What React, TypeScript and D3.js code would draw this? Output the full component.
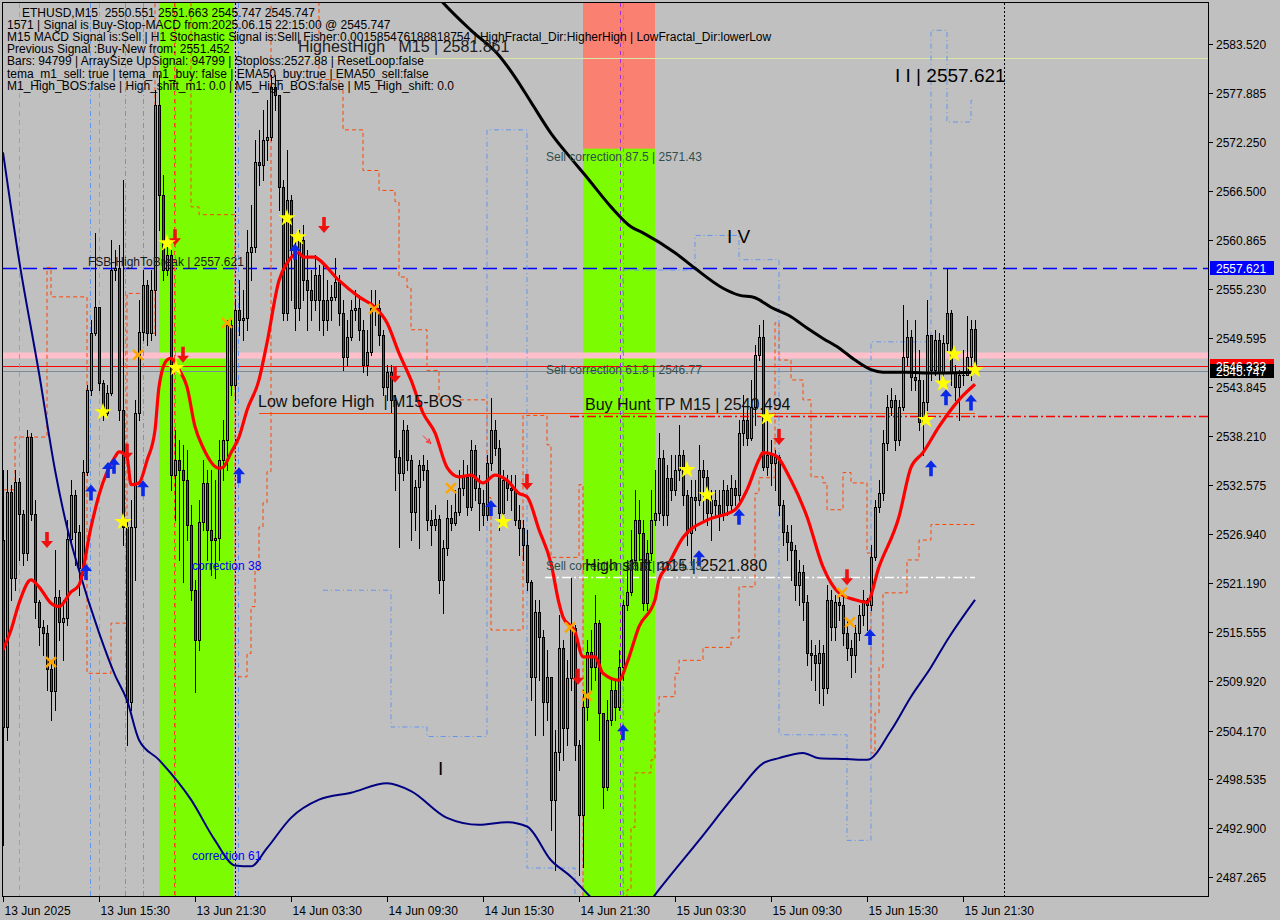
import React, { useRef, useEffect } from 'react';
import * as d3 from 'd3';

// ETHUSD M15, one value per bar, 13 Jun 09:30 -> 15 Jun 22:15
const firstOpen = 2526.2;
const closes = [
  2504.6, 2531.7, 2521.8, 2532.9, 2529.2, 2524.7, 2538.1, 2529.2, 2519.0, 2516.1,
  2515.5, 2511.3, 2508.8, 2519.6, 2516.7, 2517.2, 2526.3, 2531.4, 2527.1, 2523.0,
  2534.1, 2543.5, 2550.1, 2553.1, 2544.3, 2540.9, 2543.2, 2557.4, 2557.6, 2541.2,
  2527.7, 2507.5, 2527.7, 2540.9, 2550.2, 2555.7, 2550.1, 2555.1, 2576.5, 2566.1,
  2557.4, 2559.1, 2533.7, 2535.4, 2534.3, 2533.1, 2527.9, 2520.4, 2514.6, 2528.3,
  2532.8, 2527.4, 2526.2, 2526.4, 2535.4, 2537.8, 2551.0, 2544.1, 2552.8, 2551.6,
  2551.9, 2559.5, 2560.1, 2569.9, 2569.5, 2572.4, 2572.8, 2578.5, 2577.6, 2567.0,
  2552.4, 2565.5, 2559.7, 2553.0, 2560.9, 2556.2, 2555.1, 2553.9, 2556.8, 2553.9,
  2551.6, 2553.9, 2554.3, 2556.0, 2552.4, 2547.4, 2549.7, 2552.8, 2553.0, 2550.5,
  2546.4, 2547.9, 2553.0, 2553.0, 2549.9, 2543.9, 2545.6, 2542.4, 2535.8, 2533.9,
  2538.9, 2535.4, 2529.4, 2532.3, 2534.9, 2534.3, 2528.5, 2527.9, 2528.6, 2521.6,
  2525.3, 2528.7, 2528.2, 2529.4, 2532.2, 2533.5, 2530.0, 2536.6, 2532.2, 2530.5,
  2529.1, 2535.1, 2538.9, 2536.8, 2529.3, 2533.1, 2532.2, 2532.0, 2528.5, 2527.6,
  2525.6, 2521.4, 2510.4, 2517.9, 2515.0, 2507.5, 2510.4, 2496.2, 2501.7, 2513.7,
  2504.5, 2510.3, 2516.0, 2502.5, 2494.4, 2506.9, 2513.3, 2511.5, 2516.6, 2506.2,
  2497.7, 2505.4, 2508.9, 2506.9, 2511.5, 2518.7, 2520.2, 2523.9, 2528.5, 2527.0,
  2518.9, 2524.7, 2528.5, 2529.3, 2535.7, 2529.1, 2533.4, 2532.0, 2534.3, 2536.0,
  2531.4, 2527.0, 2531.2, 2530.8, 2534.3, 2533.5, 2529.3, 2530.8, 2530.2, 2529.1,
  2532.0, 2530.2, 2532.2, 2531.4, 2538.6, 2540.1, 2538.0, 2541.6, 2547.6, 2549.7,
  2534.6, 2536.0, 2535.1, 2535.8, 2530.2, 2527.1, 2526.0, 2525.0, 2521.0, 2522.5,
  2519.0, 2513.1, 2512.9, 2512.0, 2513.1, 2509.1, 2519.3, 2516.1, 2519.0, 2518.7,
  2515.5, 2513.7, 2512.9, 2515.5, 2517.5, 2519.3, 2518.7, 2524.2, 2530.0, 2531.6,
  2537.4, 2541.6, 2542.4, 2537.8, 2541.6, 2547.4, 2549.7, 2545.0, 2544.7, 2539.8,
  2542.2, 2549.9, 2545.8, 2549.3, 2545.5, 2549.0, 2552.4, 2545.5, 2543.9, 2545.3,
  2545.3, 2547.4, 2550.551, 2545.747,
];
const highs = [
  2534.3, 2534.3, 2532.6, 2534.3, 2533.4, 2529.7, 2538.9, 2538.6, 2530.8, 2519.3,
  2517.0, 2516.4, 2512.3, 2525.0, 2520.4, 2519.3, 2528.5, 2533.1, 2532.0, 2527.9,
  2535.4, 2544.1, 2551.6, 2561.7, 2552.8, 2544.7, 2544.1, 2560.9, 2559.7, 2560.3,
  2567.8, 2528.5, 2530.8, 2542.4, 2553.9, 2557.4, 2556.2, 2557.4, 2578.2, 2579.9,
  2568.4, 2560.9, 2559.7, 2538.9, 2537.8, 2537.2, 2536.6, 2530.2, 2521.6, 2530.8,
  2535.4, 2534.3, 2534.3, 2533.1, 2537.8, 2540.1, 2551.6, 2551.6, 2553.9, 2556.2,
  2555.1, 2562.0, 2564.9, 2572.4, 2573.6, 2575.9, 2577.1, 2579.9, 2579.9, 2577.6,
  2567.8, 2571.3, 2566.1, 2560.9, 2562.0, 2562.6, 2559.7, 2557.4, 2559.1, 2558.0,
  2558.0, 2556.2, 2555.7, 2558.8, 2556.8, 2553.9, 2551.6, 2553.9, 2555.1, 2554.5,
  2551.6, 2550.5, 2555.1, 2555.1, 2553.9, 2550.5, 2546.4, 2546.4, 2543.0, 2536.6,
  2540.1, 2539.5, 2536.0, 2533.1, 2535.4, 2536.0, 2535.4, 2529.7, 2530.2, 2529.1,
  2526.2, 2530.8, 2530.2, 2532.0, 2534.3, 2535.4, 2534.9, 2537.8, 2537.2, 2533.7,
  2532.0, 2536.0, 2542.6, 2540.1, 2537.8, 2534.3, 2533.7, 2533.7, 2533.7, 2530.2,
  2528.5, 2527.4, 2521.6, 2519.3, 2519.3, 2515.8, 2513.5, 2510.0, 2504.2, 2517.5,
  2514.6, 2512.3, 2521.8, 2516.4, 2503.1, 2508.9, 2514.6, 2515.8, 2519.8, 2517.0,
  2506.0, 2507.7, 2510.0, 2510.0, 2513.5, 2519.3, 2523.9, 2527.4, 2532.0, 2530.8,
  2528.5, 2526.2, 2532.0, 2534.3, 2538.6, 2536.6, 2534.9, 2536.0, 2536.0, 2539.5,
  2536.6, 2532.0, 2533.1, 2533.1, 2537.2, 2535.4, 2534.3, 2532.0, 2532.0, 2532.0,
  2533.1, 2532.6, 2533.7, 2533.1, 2540.1, 2543.0, 2541.2, 2544.7, 2548.7, 2551.0,
  2551.6, 2540.6, 2537.8, 2536.6, 2536.0, 2530.8, 2527.9, 2527.9, 2525.6, 2523.9,
  2523.3, 2519.8, 2514.6, 2514.1, 2514.6, 2514.1, 2521.0, 2520.4, 2519.8, 2520.4,
  2519.8, 2517.0, 2514.6, 2516.4, 2518.7, 2520.4, 2519.5, 2525.6, 2530.8, 2533.1,
  2538.9, 2543.0, 2543.8, 2543.0, 2542.4, 2553.4, 2551.6, 2550.5, 2551.6, 2548.2,
  2544.7, 2553.9, 2549.9, 2550.5, 2550.1, 2549.9, 2557.6, 2552.8, 2546.4, 2545.9,
  2548.2, 2552.1, 2551.6, 2551.663,
];
const lows = [
  2491.0, 2503.1, 2519.3, 2520.4, 2523.9, 2523.3, 2523.9, 2528.5, 2517.2, 2514.1,
  2512.9, 2508.9, 2505.4, 2506.6, 2514.6, 2512.3, 2516.4, 2525.6, 2523.3, 2519.8,
  2522.2, 2533.7, 2543.0, 2549.9, 2543.5, 2540.1, 2540.6, 2543.0, 2556.2, 2540.1,
  2525.6, 2502.5, 2506.6, 2521.6, 2540.1, 2549.3, 2548.7, 2549.3, 2549.9, 2562.0,
  2556.2, 2556.8, 2532.0, 2528.5, 2523.9, 2521.3, 2526.2, 2519.3, 2508.6, 2513.5,
  2527.4, 2523.9, 2522.2, 2521.8, 2523.9, 2533.1, 2534.3, 2543.0, 2542.4, 2549.9,
  2549.3, 2550.5, 2556.2, 2559.5, 2567.2, 2567.8, 2570.1, 2572.4, 2575.9, 2564.3,
  2551.6, 2551.6, 2553.9, 2550.5, 2551.6, 2553.9, 2550.5, 2551.6, 2552.8, 2550.5,
  2549.9, 2550.5, 2551.6, 2553.9, 2551.0, 2545.9, 2546.4, 2549.3, 2551.6, 2549.3,
  2545.6, 2545.3, 2547.6, 2551.0, 2548.7, 2543.0, 2542.4, 2541.0, 2532.0, 2525.4,
  2533.1, 2534.3, 2526.2, 2527.4, 2525.3, 2533.1, 2527.4, 2525.6, 2527.4, 2520.1,
  2517.8, 2524.5, 2527.4, 2527.9, 2529.1, 2531.4, 2529.1, 2529.7, 2530.8, 2527.4,
  2527.9, 2528.5, 2534.3, 2536.0, 2527.4, 2529.1, 2530.8, 2529.7, 2527.9, 2524.5,
  2523.9, 2520.4, 2507.7, 2503.7, 2510.0, 2503.7, 2505.4, 2492.7, 2488.1, 2499.6,
  2500.8, 2502.5, 2508.9, 2500.8, 2487.5, 2488.4, 2505.4, 2508.9, 2510.0, 2503.1,
  2495.2, 2497.3, 2504.8, 2505.4, 2506.6, 2510.0, 2518.1, 2519.8, 2522.7, 2523.9,
  2518.1, 2518.1, 2523.9, 2527.9, 2528.5, 2527.9, 2527.9, 2530.8, 2531.4, 2533.1,
  2530.2, 2525.6, 2523.3, 2527.4, 2530.2, 2528.5, 2527.9, 2526.2, 2529.1, 2527.4,
  2528.5, 2529.1, 2529.4, 2530.2, 2530.8, 2537.2, 2537.2, 2537.8, 2539.5, 2547.0,
  2534.3, 2533.7, 2532.6, 2532.0, 2529.1, 2525.6, 2523.9, 2521.6, 2519.3, 2518.7,
  2517.0, 2511.8, 2510.0, 2508.9, 2507.4, 2507.1, 2508.5, 2514.6, 2514.6, 2517.0,
  2514.1, 2512.3, 2510.4, 2510.9, 2514.6, 2516.4, 2515.8, 2518.1, 2523.9, 2529.4,
  2530.8, 2536.6, 2540.6, 2536.6, 2537.2, 2541.2, 2546.4, 2543.5, 2543.5, 2538.9,
  2536.0, 2541.2, 2544.7, 2545.3, 2544.7, 2544.1, 2548.2, 2544.1, 2542.4, 2540.1,
  2544.1, 2546.4, 2544.7, 2545.747,
];

const priceTicks = [
  2583.52, 2577.885, 2572.25, 2566.5, 2560.865, 2555.23, 2549.595, 2543.845, 2538.21,
  2532.575, 2526.94, 2521.19, 2515.555, 2509.92, 2504.17, 2498.535, 2492.9, 2487.265,
];
// one label every 24 bars (6 hours)
const timeLabels = [
  '13 Jun 2025', '13 Jun 15:30', '13 Jun 21:30', '14 Jun 03:30', '14 Jun 09:30', '14 Jun 15:30',
  '14 Jun 21:30', '15 Jun 03:30', '15 Jun 09:30', '15 Jun 15:30', '15 Jun 21:30',
];

// indicator lines: [bar, price]
const fastEma = [
  [0, 2513.5], [2, 2515.8], [4, 2518.9], [7, 2521.6], [9, 2520.8], [12, 2518.9], [14, 2518.5],
  [17, 2520.2], [19, 2521.0], [22, 2527.7], [24, 2531.4], [28, 2535.8], [29, 2536.4], [31, 2535.8],
  [32, 2532.6], [34, 2532.8], [36, 2535.4], [38, 2538.9], [39, 2543.9], [41, 2547.0], [42, 2547.2],
  [44, 2545.9], [46, 2543.9], [48, 2539.3], [50, 2536.9], [54, 2534.5], [55, 2534.6], [57, 2536.3],
  [59, 2538.1], [61, 2541.2], [64, 2544.7], [66, 2549.0], [69, 2556.2], [71, 2558.2], [74, 2559.4],
  [75, 2558.9], [78, 2558.9], [79, 2558.6], [84, 2556.2], [89, 2554.3], [93, 2553.1], [96, 2551.3],
  [99, 2547.8], [102, 2544.7], [105, 2540.9], [108, 2538.6], [111, 2534.6], [114, 2533.5],
  [117, 2533.7], [120, 2532.8], [123, 2533.7], [126, 2533.1], [129, 2531.6], [131, 2531.2],
  [134, 2527.4], [137, 2523.5], [139, 2518.9], [140, 2517.3], [143, 2515.6], [145, 2512.7],
  [148, 2512.7], [150, 2510.8], [154, 2510.0], [156, 2512.0], [159, 2516.2], [163, 2519.3],
  [164, 2521.6], [166, 2523.1], [170, 2526.5], [176, 2528.5], [183, 2529.7], [186, 2532.0],
  [189, 2535.5], [190, 2536.3], [193, 2536.0], [197, 2533.1], [201, 2528.9], [205, 2523.1],
  [209, 2520.1], [213, 2519.3], [216, 2519.0], [219, 2523.1], [224, 2528.9], [227, 2534.6],
  [230, 2536.3], [234, 2539.3], [239, 2542.4], [243, 2544.2],
];
const slowMa = [
  [105, 2591.0], [110, 2588.3], [117, 2585.1], [124, 2582.2], [128, 2579.7], [132, 2576.8],
  [137, 2573.2], [142, 2570.3], [146, 2568.1], [152, 2564.7], [157, 2562.4], [160, 2561.7],
  [168, 2559.4], [173, 2557.6], [180, 2555.3], [184, 2554.5], [188, 2554.2], [192, 2553.1],
  [197, 2552.0], [201, 2550.7], [205, 2549.5], [209, 2548.4], [213, 2547.0], [217, 2545.9],
  [220, 2545.6], [226, 2545.6], [230, 2545.5], [243, 2545.6],
];
const lowerMa = [
  [0, 2571.0], [4, 2558.6], [9, 2545.5], [13, 2534.3], [16, 2527.7], [19, 2522.7], [24, 2515.5],
  [28, 2510.6], [31, 2507.7], [34, 2503.1], [39, 2500.8], [47, 2496.2], [53, 2491.5], [58, 2488.6],
  [62, 2488.5], [66, 2490.6], [72, 2494.1], [79, 2496.2], [87, 2497.0], [96, 2498.1], [102, 2497.2],
  [111, 2494.1], [119, 2493.3], [126, 2493.6], [131, 2493.1], [137, 2489.2], [142, 2487.3],
  [147, 2484.9], [152, 2482.9], [157, 2482.3], [161, 2484.0], [164, 2485.8], [174, 2491.5],
  [184, 2497.3], [190, 2500.4], [194, 2501.0], [200, 2501.6], [204, 2501.0], [211, 2500.9],
  [216, 2500.8], [222, 2504.2], [227, 2508.1], [232, 2511.5], [236, 2514.6], [243, 2519.3],
];
const stopLine = [
  [0, 2532.0], [3, 2538.1], [11, 2557.7], [12, 2554.3], [21, 2510.8], [27, 2516.6], [31, 2554.7],
  [35, 2550.1], [38, 2590.0], [47, 2564.7], [49, 2563.8], [58, 2510.4], [61, 2513.1], [62, 2518.5],
  [63, 2522.7], [64, 2527.7], [65, 2530.5], [66, 2534.1], [67, 2590.0], [79, 2579.4], [84, 2578.2],
  [85, 2573.6], [90, 2568.9], [94, 2566.6], [98, 2565.3], [99, 2556.6], [101, 2555.4], [102, 2550.5],
  [106, 2545.8], [109, 2542.4], [121, 2531.1], [122, 2515.8], [130, 2540.6], [136, 2537.2],
  [137, 2524.2], [144, 2532.6], [145, 2480.0], [156, 2485.8], [157, 2493.0], [158, 2499.3],
  [162, 2500.8], [163, 2506.3], [164, 2508.1], [168, 2510.8], [169, 2512.3], [175, 2513.8],
  [182, 2514.9], [184, 2520.8], [188, 2531.6], [189, 2533.4], [193, 2551.3], [194, 2547.0],
  [197, 2544.7], [200, 2542.4], [202, 2533.5], [205, 2532.8], [206, 2529.7], [210, 2534.0],
  [212, 2532.8], [216, 2524.7], [217, 2501.6], [218, 2506.2], [219, 2511.5], [220, 2520.1],
  [226, 2523.9], [229, 2526.2], [232, 2528.0], [243, 2528.0],
];
const channelLine = [
  [80, 2520.4], [97, 2504.6], [106, 2503.5], [121, 2573.6], [131, 2488.3], [143, 2480.0],
  [155, 2557.4], [173, 2561.4], [184, 2558.6], [194, 2503.7], [211, 2491.5], [217, 2549.1],
  [232, 2585.1], [236, 2574.5], [242, 2577.0], [243, 2577.0],
];

// signals: [bar, price]
const sellArrows = [
  [11, 2526.2], [31, 2536.4], [43, 2561.2], [45, 2547.6], [80.25, 2562.6], [98, 2545.3],
  [131, 2532.9], [143.75, 2510.4], [194, 2538.1], [211, 2521.9],
];
const buyArrows = [
  [20.75, 2522.5], [22, 2531.7], [26.25, 2534.3], [27.75, 2534.8], [35, 2532.2], [59, 2533.7],
  [73, 2559.5], [122, 2529.9], [155, 2504.0], [174, 2524.1], [184, 2528.9], [216.75, 2515.0],
  [232, 2534.5], [235.75, 2542.7], [242, 2542.1],
];
const stars = [
  [25, 2541.0], [30, 2528.3], [41, 2560.5], [43.25, 2546.1], [71, 2563.4], [73.75, 2561.2],
  [125, 2528.3], [171, 2534.3], [176, 2531.4], [191, 2540.4], [230.75, 2540.1], [235, 2544.3],
  [237.75, 2547.7], [243, 2545.85],
];
const crosses = [
  [12, 2512.1], [33.75, 2547.6], [56, 2551.3], [92.75, 2552.9], [112, 2532.2], [141.75, 2516.1],
  [146, 2508.2], [209.75, 2520.1], [211.75, 2516.7],
];

// zones (bars) and levels (prices)
const buyZones = [[39, 57.5], [145, 163]];
const sellZoneTop = 2571.43;
const fsbLevel = 2557.621;
const pinkLevel = 2547.6;
const redLevel = 2546.333;
const bidPrice = 2545.747;
const highestHigh = 2581.861;
const lowBeforeHigh = 2540.9;
const buyHuntTp = 2540.494;
const highShift = 2521.88;
const sellCorrections = [[87.5, 2571.43], [61.8, 2546.77], [38.2, 2524.13]];
const pinkMarks = [4, 24];
const blueMarks = [21.75, 30.5, 35, 43, 58.75, 155];
const redMarks = [42.75];
const purpleMarks = [154.25];
const blackMarks = [58, 250.25];

const infoLines = [
  'ETHUSD,M15  2550.551 2551.663 2545.747 2545.747',
  '1571 | Signal is Buy-Stop-MACD from:2025.06.15 22:15:00 @ 2545.747',
  'M15 MACD Signal is:Sell | H1 Stochastic Signal is:Sell| Fisher:0.001585476188818754 | HighFractal_Dir:HigherHigh | LowFractal_Dir:lowerLow',
  'Previous Signal :Buy-New from: 2551.452',
  'Bars: 94799 | ArraySize UpSignal: 94799 | Stoploss:2527.88 | ResetLoop:false',
  'tema_m1_sell: true | tema_m1_buy: false | EMA50_buy:true | EMA50_sell:false',
  'M1_High_BOS:false | High_shift_m1: 0.0 | M5_High_BOS:false | M5_High_shift: 0.0',
];

const FONT = 'Liberation Sans, Arial, sans-serif';

function App() {
  const svgRef = useRef(null);

  useEffect(() => {
    const W = 1280;
    const H = 920;
    const L = 3, R = 1208, T = 3, B = 896;
    const svg = d3.select(svgRef.current).attr('width', W).attr('height', H);
    svg.selectAll('*').remove();

    const x = d3.scaleLinear().domain([0, 243]).range([3, 975]);
    const y = d3.scaleLinear().domain([2487.265, 2583.52]).range([877, 44]);

    svg.append('rect').attr('width', W).attr('height', H).attr('fill', '#c0c0c0');
    svg.append('defs').append('clipPath').attr('id', 'plotclip')
      .append('rect').attr('x', L).attr('y', T).attr('width', R - L).attr('height', B - T);
    const g = svg.append('g').attr('clip-path', 'url(#plotclip)');

    // zones
    buyZones.forEach(z => {
      g.append('rect').attr('x', x(z[0])).attr('y', T).attr('width', x(z[1]) - x(z[0]))
        .attr('height', B - T).attr('fill', '#7cfc00');
    });
    const z2 = buyZones[1];
    g.append('rect').attr('x', x(z2[0])).attr('y', T).attr('width', x(z2[1]) - x(z2[0]))
      .attr('height', y(sellZoneTop) - T).attr('fill', '#fa8072');

    const hline = (p, x1, x2, color, w, dash) => {
      const yy = Math.round(y(p)) + 0.5;
      g.append('line').attr('x1', x1).attr('x2', x2).attr('y1', yy).attr('y2', yy)
        .attr('stroke', color).attr('stroke-width', w).attr('stroke-dasharray', dash || null);
    };
    hline(pinkLevel, L, R, '#ffc0cb', 6);
    hline(redLevel, L, R, '#ff0000', 1);
    hline(bidPrice, L, R, '#7a8a99', 1);
    hline(fsbLevel, L, R, '#0000ff', 1.3, '14,6');
    hline(highestHigh, x(73.75), R, '#d8e6a6', 1);
    hline(lowBeforeHigh, x(64), x(243), '#ff4500', 1);
    hline(buyHuntTp, x(141.75), R, '#ff0000', 1.3, '9,3,2,3');
    hline(highShift, x(135.5), x(243), '#ffffff', 1.3, '9,3,2,3');

    const vline = (bar, color, dash) => {
      const xx = Math.round(x(bar)) + 0.5;
      g.append('line').attr('x1', xx).attr('x2', xx).attr('y1', T).attr('y2', B)
        .attr('stroke', color).attr('stroke-dasharray', dash);
    };
    pinkMarks.forEach(b => vline(b, '#ff6fa8', '5,4'));
    blueMarks.forEach(b => vline(b, '#6495ed', '5,3,1,3'));
    redMarks.forEach(b => vline(b, '#ff3c28', '4,4'));
    purpleMarks.forEach(b => vline(b, '#9b30d0', '4,4'));
    blackMarks.forEach(b => vline(b, '#000000', '2,2'));

    const line = d3.line().x(d => x(d[0])).y(d => y(d[1]));
    const step = d3.line().x(d => x(d[0])).y(d => y(d[1])).curve(d3.curveStepAfter);
    g.append('path').attr('d', step(stopLine)).attr('fill', 'none')
      .attr('stroke', '#ff4500').attr('stroke-dasharray', '4,3');
    g.append('path').attr('d', step(channelLine)).attr('fill', 'none')
      .attr('stroke', '#6495ed').attr('stroke-dasharray', '5,3,1,3');

    // candles
    const cg = g.append('g').attr('shape-rendering', 'crispEdges');
    closes.forEach((c, i) => {
      const o = i === 0 ? firstOpen : closes[i - 1];
      const hi = Math.max(highs[i], o, c);
      const lo = Math.min(lows[i], o, c);
      const xi = Math.round(x(i));
      cg.append('line').attr('x1', xi + 0.5).attr('x2', xi + 0.5)
        .attr('y1', Math.round(y(hi))).attr('y2', Math.round(y(lo)) + 1).attr('stroke', '#000');
      const top = Math.round(y(Math.max(o, c)));
      const bot = Math.round(y(Math.min(o, c)));
      if (bot - top < 1) {
        cg.append('line').attr('x1', xi - 1).attr('x2', xi + 2).attr('y1', top + 0.5).attr('y2', top + 0.5)
          .attr('stroke', '#000');
      } else {
        cg.append('rect').attr('x', xi - 0.5).attr('y', top + 0.5).attr('width', 2).attr('height', bot - top)
          .attr('fill', c >= o ? '#3cb371' : '#b8232f').attr('stroke', '#000');
      }
    });

    g.append('path').attr('d', line.curve(d3.curveMonotoneX)(lowerMa)).attr('fill', 'none')
      .attr('stroke', '#000080').attr('stroke-width', 2);
    g.append('path').attr('d', line.curve(d3.curveMonotoneX)(slowMa)).attr('fill', 'none')
      .attr('stroke', '#000000').attr('stroke-width', 3);
    g.append('path').attr('d', line.curve(d3.curveMonotoneX)(fastEma)).attr('fill', 'none')
      .attr('stroke', '#ff0000').attr('stroke-width', 3.2);

    // signal markers
    const up = 'M-1.8,8 L-1.8,-1 L-6,-1 L0,-8 L6,-1 L1.8,-1 L1.8,8 Z';
    const down = 'M-1.8,-8 L-1.8,1 L-6,1 L0,8 L6,1 L1.8,1 L1.8,-8 Z';
    sellArrows.forEach(d => {
      g.append('path').attr('d', down).attr('transform', `translate(${x(d[0])},${y(d[1])})`).attr('fill', '#f01010');
    });
    buyArrows.forEach(d => {
      g.append('path').attr('d', up).attr('transform', `translate(${x(d[0])},${y(d[1])})`).attr('fill', '#0a28e6');
    });
    const star = d3.symbol().type(d3.symbolStar).size(95)();
    stars.forEach(d => {
      g.append('path').attr('d', star).attr('transform', `translate(${x(d[0])},${y(d[1])})`).attr('fill', '#ffff00');
    });
    crosses.forEach(d => {
      const cx = x(d[0]), cy = y(d[1]);
      g.append('path').attr('d', `M${cx - 5},${cy - 5}L${cx + 5},${cy + 5}M${cx + 5},${cy - 5}L${cx - 5},${cy + 5}`)
        .attr('stroke', '#ffa500').attr('stroke-width', 2.5);
    });
    g.append('path').attr('d', 'M-4,-4 L2,2 L2,-1 L4,4 L-1,2 L2,2').attr('transform', `translate(${x(106)},${y(2537.8)})`)
      .attr('fill', 'none').attr('stroke', '#ff3030');

    // in-chart labels
    const label = (tx, ty, s, size, color) => {
      g.append('text').attr('x', tx).attr('y', ty).text(s).attr('font-family', FONT)
        .attr('font-size', size).attr('fill', color).style('white-space', 'pre');
    };
    sellCorrections.forEach(d => label(x(135.75), y(d[1]) + 12, `Sell correction ${d[0]} | ${d[1]}`, 12, '#2f4f4f'));
    label(x(21.25), y(fsbLevel) - 2, `FSB-HighToBreak | ${fsbLevel}`, 12, '#1a1a1a');
    label(x(73.75), y(highestHigh) - 6, `HighestHigh   M15 | ${highestHigh}`, 16, '#202020');
    label(x(63.75), y(lowBeforeHigh) - 6, 'Low before High  | M15-BOS', 16, '#101010');
    label(x(145.5), y(buyHuntTp) - 6, `Buy Hunt TP M15 | ${buyHuntTp}`, 16, '#101010');
    label(x(145.5), y(highShift) - 6, `High shift m15 | ${highShift.toFixed(3)}`, 16, '#101010');
    label(x(47.25), y(2524.1) + 12, 'correction 38', 12, '#0000ff');
    label(x(47.25), y(2490.6) + 12, 'correction 61', 12, '#0000ff');
    label(x(223), y(2579.9) + 7, `I I | ${fsbLevel}`, 19, '#000000');
    label(x(181), y(2561.3) + 7, 'I V', 19, '#000000');
    label(x(108.75), y(2499.9) + 7, 'I', 19, '#000000');

    // frame and axes
    const fr = svg.append('g').attr('shape-rendering', 'crispEdges');
    fr.append('rect').attr('x', 2.5).attr('y', 2.5).attr('width', R - 2).attr('height', B - 2)
      .attr('fill', 'none').attr('stroke', '#000');
    priceTicks.forEach(p => {
      const yy = Math.round(y(p)) + 0.5;
      fr.append('line').attr('x1', R + 1).attr('x2', R + 5).attr('y1', yy).attr('y2', yy).attr('stroke', '#000');
      svg.append('text').attr('x', R + 8).attr('y', yy + 4).text(p.toFixed(3))
        .attr('font-family', FONT).attr('font-size', 12).attr('fill', '#000');
    });
    timeLabels.forEach((s, k) => {
      const xx = Math.round(x(k * 24)) + 0.5;
      fr.append('line').attr('x1', xx).attr('x2', xx).attr('y1', B + 1).attr('y2', B + 6).attr('stroke', '#000');
      svg.append('text').attr('x', xx + 1).attr('y', B + 19).text(s)
        .attr('font-family', FONT).attr('font-size', 12).attr('fill', '#000');
    });
    const priceBox = (p, bg, fg) => {
      const yy = y(p);
      fr.append('rect').attr('x', R + 2).attr('y', Math.round(yy) - 7).attr('width', 64).attr('height', 14).attr('fill', bg);
      svg.append('text').attr('x', R + 8).attr('y', Math.round(yy) + 5).text(p.toFixed(3))
        .attr('font-family', FONT).attr('font-size', 12).attr('fill', fg);
    };
    priceBox(fsbLevel, '#0000ff', '#ffffff');
    priceBox(redLevel, '#ff0000', '#ffffff');
    priceBox(bidPrice, '#000000', '#ffffff');

    // info block
    infoLines.forEach((s, k) => {
      svg.append('text').attr('x', k === 0 ? 22 : 7).attr('y', 17 + k * 12.1).text(s)
        .attr('font-family', FONT).attr('font-size', 12).attr('fill', '#000').style('white-space', 'pre');
    });
  }, []);

  return (
    <div>
      <style>{'body{margin:0;} svg{display:block;}'}</style>
      <svg ref={svgRef}></svg>
    </div>
  );
}

export default App;
